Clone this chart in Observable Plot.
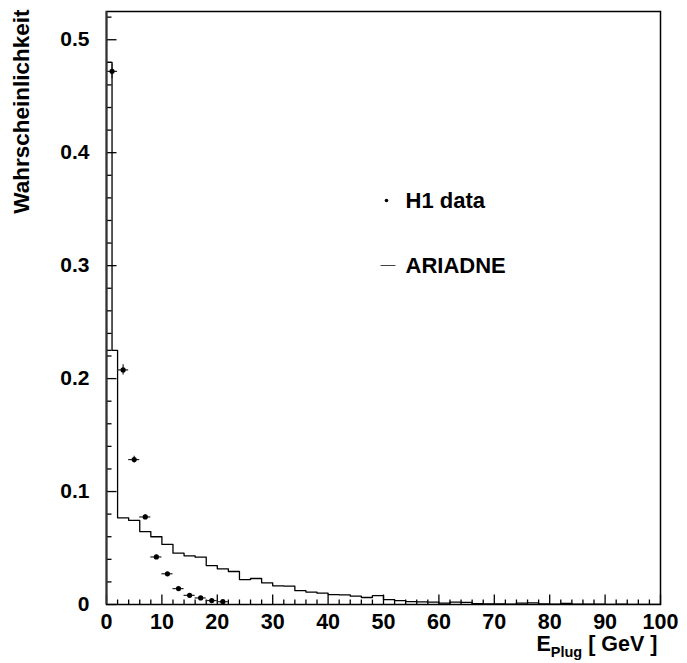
<!DOCTYPE html>
<html>
<head>
<meta charset="utf-8">
<script src="https://cdn.jsdelivr.net/npm/d3@7"></script>
<script src="https://cdn.jsdelivr.net/npm/@observablehq/plot@0.6"></script>
<style>
  html, body { margin: 0; padding: 0; background: #fff; }
  #chart { width: 687px; height: 663px; }
</style>
</head>
<body>
<div id="chart"></div>
<script>
// ---- Data: H1 data points (bin centres, probability, stat. error) ----
const dataX   = [1, 3, 5, 7, 9, 11, 13, 15, 17, 19, 21];
const dataY   = [0.472, 0.2077, 0.1283, 0.0775, 0.0421, 0.0272, 0.0141, 0.0081, 0.0058, 0.0035, 0.0025];
const dataErr = [0.0066, 0.0045, 0.003, 0.002, 0.0015, 0.001, 0.001, 0.0008, 0.0006, 0.0005, 0.0004];
const dataHalfWidth = 1;

// ---- ARIADNE histogram: bin edges and contents ----
const mcEdges = [0, 1, 2, 4, 6, 8, 10, 12, 14, 16, 18, 20, 22, 24, 26, 28, 30, 32, 34, 36, 38, 40,
  42, 44, 46, 48, 50, 52, 54, 56, 58, 60, 62, 64, 66, 68, 70, 72, 74, 76, 78, 80,
  82, 84, 86, 88, 90, 92, 94, 96, 98, 100];
const mcValues = [0.480, 0.225,
  0.0767, 0.0745, 0.0646, 0.0600, 0.0532, 0.0454, 0.0431, 0.0419, 0.0345, 0.0316,
  0.0292, 0.0221, 0.0230, 0.0192, 0.0165, 0.0162, 0.0122, 0.0110, 0.0100, 0.0088,
  0.0086, 0.0074, 0.0062, 0.0079, 0.0043, 0.0035, 0.0025, 0.0024, 0.0021, 0.0012,
  0.0021, 0.0018, 0.0008, 0.0006, 0.0005, 0.0004, 0.0012, 0.0015, 0.0005, 0.0004,
  0.0009, 0.0003, 0.0002, 0.0002, 0.0001, 0.0002, 0.0001, 0.0001, 0.0001];

// ---- Axis ticks / labels ----
const xLabelTicks = [0, 10, 20, 30, 40, 50, 60, 70, 80, 90, 100];
const xMinorTicks = [2,4,6,8,12,14,16,18,22,24,26,28,32,34,36,38,42,44,46,48,52,54,56,58,62,64,66,68,72,74,76,78,82,84,86,88,92,94,96,98];
const yLabelTicks = [0, 0.1, 0.2, 0.3, 0.4, 0.5];
const yMinorTicks = [0.02,0.04,0.06,0.08,0.12,0.14,0.16,0.18,0.22,0.24,0.26,0.28,0.32,0.34,0.36,0.38,0.42,0.44,0.46,0.48,0.52];
const xTitle = "E_Plug [ GeV ]";
const yTitle = "Wahrscheinlichkeit";
const legendLabels = ["H1 data", "ARIADNE"];

// ---- derived tables ----
const points = dataX.map((x, i) => ({x, y: dataY[i], e: dataErr[i]}));
const hist = mcEdges.map((x, i) => ({x, y: mcValues[Math.min(i, mcValues.length - 1)]}));
const extraSeg = [{x1: mcEdges[0], x2: mcEdges[1], y: mcValues[1]}];

const segSym = (dx, dy) => ({draw(ctx) { ctx.moveTo(0, 0); ctx.lineTo(dx, dy); }});
const legendLineSym = {draw(ctx) { ctx.moveTo(-7.5, 0); ctx.lineTo(7.5, 0); }};

const font = "'Liberation Sans', Arial, Helvetica, sans-serif";
const fs = 21;

const svg = Plot.plot({
  width: 687,
  height: 663,
  marginLeft: 106,
  marginRight: 27,
  marginTop: 11,
  marginBottom: 59,
  style: {fontFamily: font, fontWeight: "bold", background: "white", color: "black"},
  x: {domain: [0, 100]},
  y: {domain: [0, 0.525]},
  marks: [
    // ticks (inward, ROOT style)
    Plot.dot(yLabelTicks, {x: () => 0, y: d => d, symbol: segSym(10, 0), stroke: "black", fill: "none", strokeWidth: 1.3}),
    Plot.dot(yMinorTicks, {x: () => 0, y: d => d, symbol: segSym(5, 0), stroke: "black", fill: "none", strokeWidth: 1.3}),
    Plot.dot(xLabelTicks, {x: d => d, y: () => 0, symbol: segSym(0, -10), stroke: "black", fill: "none", strokeWidth: 1.3}),
    Plot.dot(xMinorTicks, {x: d => d, y: () => 0, symbol: segSym(0, -5), stroke: "black", fill: "none", strokeWidth: 1.3}),
    Plot.axisY({ticks: yLabelTicks, tickSize: 0, tickPadding: 17, tickFormat: d => d === 0 ? "0" : d.toFixed(1), fontSize: fs, fontWeight: "bold", label: null}),
    Plot.axisX({ticks: xLabelTicks, tickSize: 0, tickPadding: 9, tickFormat: d => String(d), fontSize: 21.5, fontWeight: "bold", label: null}),
    // ARIADNE histogram
    Plot.line(hist, {x: "x", y: "y", curve: "step-after", stroke: "black", strokeWidth: 1.3}),
    Plot.ruleY(extraSeg, {x1: "x1", x2: "x2", y: "y", stroke: "black", strokeWidth: 1.3}),
    // H1 data with error bars
    Plot.ruleY(points, {y: "y", x1: d => d.x - dataHalfWidth, x2: d => d.x + dataHalfWidth, stroke: "#222", strokeWidth: 1.2}),
    Plot.ruleX(points, {x: "x", y1: d => d.y - d.e, y2: d => d.y + d.e, stroke: "#222", strokeWidth: 1.2}),
    Plot.dot(points, {x: "x", y: "y", r: 2.6, fill: "black"}),
    // frame
    Plot.frame({stroke: "black", strokeWidth: 1.5}),
    Plot.ruleX([0], {stroke: "#333", strokeWidth: 2}),
    // legend
    Plot.dot([0], {frameAnchor: "top-left", dx: 280, dy: 189, r: 1.8, fill: "black"}),
    Plot.dot([0], {frameAnchor: "top-left", dx: 281.5, dy: 254, symbol: legendLineSym, stroke: "#444", fill: "none", strokeWidth: 1}),
    Plot.text([legendLabels[0]], {frameAnchor: "top-left", dx: 299, dy: 189, text: d => d, textAnchor: "start", lineAnchor: "middle", fontSize: 22, fontWeight: "bold"}),
    Plot.text([legendLabels[1]], {frameAnchor: "top-left", dx: 299, dy: 254, text: d => d, textAnchor: "start", lineAnchor: "middle", fontSize: 22, fontWeight: "bold"}),
    // axis titles
    Plot.text([yTitle], {frameAnchor: "top-left", dx: -85, dy: -2, rotate: -90, text: d => d, textAnchor: "end", lineAnchor: "middle", fontSize: 22.5, fontWeight: "bold"}),
    Plot.text([xTitle], {frameAnchor: "bottom-right", dx: -3, dy: 40, text: d => d, textAnchor: "end", lineAnchor: "middle", fontSize: 21.5, fontWeight: "bold"})
  ]
});

// subscript for E_Plug
d3.select(svg).selectAll("text").each(function () {
  if (this.textContent === xTitle) {
    const t = d3.select(this);
    t.text(null);
    t.append("tspan").text("E");
    t.append("tspan").attr("font-size", 14.5).attr("dy", 6).text("Plug");
    t.append("tspan").attr("dy", -6).text(" [ GeV ]");
  }
});

document.getElementById("chart").appendChild(svg);
</script>
</body>
</html>
